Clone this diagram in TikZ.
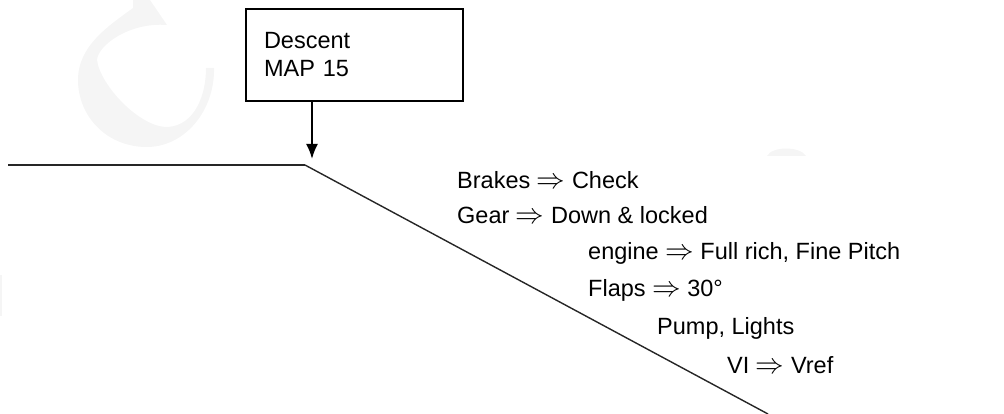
\documentclass[tikz,border=0pt]{standalone}
\usepackage{fontspec}
\usepackage{graphicx}
\setmainfont{Liberation Sans}
\newcommand{\implarrow}{\scalebox{1.15}{$\Rightarrow$}}
\usetikzlibrary{arrows.meta}
\begin{document}
\begin{tikzpicture}[x=1pt,y=-1pt,
  every node/.style={font=\fontsize{23.5}{28}\selectfont},
  lbl/.style={anchor=base west, inner sep=0pt},
  boxnode/.style={draw, line width=2pt, anchor=north west, minimum width=217pt, minimum height=92pt, text width=181pt, align=left, inner sep=0pt},
  wm/.style={fill=black!4, draw=none}]
\useasboundingbox (0,0) rectangle (1004,414);
% faint watermark fragments
\fill[wm] (133,0) -- (150,0) -- (167,25) .. controls (130,22) and (98,45) .. (97,60)
  .. controls (100,85) and (140,128) .. (168,127)
  .. controls (195,125) and (206,95) .. (206,68) -- (214,68)
  .. controls (215,110) and (185,148) .. (145,147)
  .. controls (105,146) and (78,115) .. (78,80)
  .. controls (78,45) and (110,25) .. (133,8) -- cycle;
\fill[wm] (767,156) .. controls (772,146) and (800,146) .. (806,156) -- cycle;
\fill[wm] (0,275) rectangle (1.5,316);
% box
\node[boxnode] (box) at (245,8) {Descent\\MAP 15};
% ground path
\coordinate (hstart) at (8,165);
\coordinate (knee) at (305,165);
\coordinate (tod) at (312,159);
\coordinate (send) at (768,414);
\draw[line width=2.5pt, black!85] (hstart) -- (knee);
\draw[line width=1.4pt, black!85] (knee) -- (send);
\draw[line width=2pt, -{Latex[length=15pt,width=12pt]}] (box.south -| tod) -- (tod);
% checklist
\node[lbl] (t1) at (457,189) {Brakes \implarrow{} Check};
\node[lbl] (t2) at (457,224) {Gear \implarrow{} Down \& locked};
\node[lbl] (t3) at (588,259) {engine \implarrow{} Full rich, Fine Pitch};
\node[lbl] (t4) at (588,296) {Flaps \implarrow{} 30°};
\node[lbl] (t5) at (657,334) {Pump, Lights};
\node[lbl] (t6) at (727,373) {VI \implarrow{} Vref};
\end{tikzpicture}
\end{document}
